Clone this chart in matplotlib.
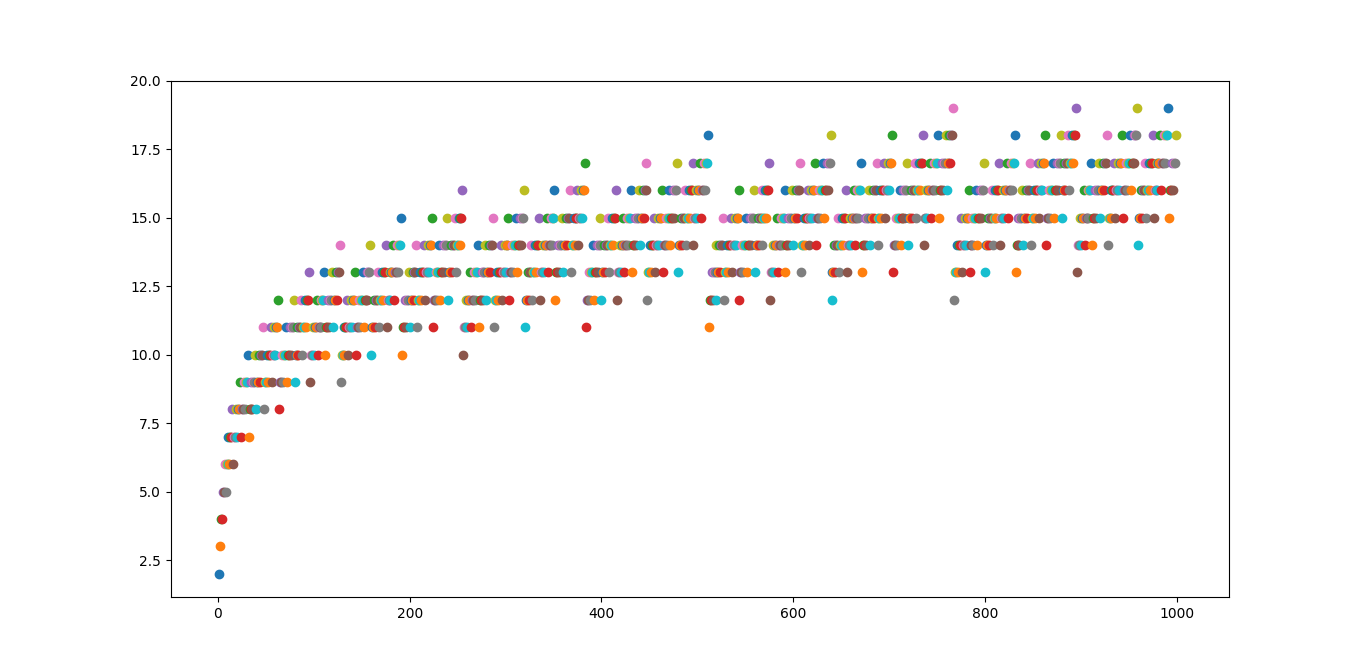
import matplotlib
matplotlib.use('Agg')
import matplotlib.pyplot as plt

# x runs 1..999, one dot per value
counts = [
    2,
    3, 4,
    4, 5, 5, 6,
    5, 6, 6, 7, 6, 7, 7, 8,
    6, 7, 7, 8, 7, 8, 8, 9, 7, 8, 8, 9, 8, 9, 9, 10,
    7, 8, 8, 9, 8, 9, 9, 10, 8, 9, 9, 10, 9, 10, 10, 11,
    8, 9, 9, 10, 9, 10, 10, 11, 9, 10, 10, 11, 10, 11, 11, 12,
    # 64
    8, 9, 9, 10, 9, 10, 10, 11, 9, 10, 10, 11, 10, 11, 11, 12,
    9, 10, 10, 11, 10, 11, 11, 12, 10, 11, 11, 12, 11, 12, 12, 13,
    9, 10, 10, 11, 10, 11, 11, 12, 10, 11, 11, 12, 11, 12, 12, 13,
    10, 11, 11, 12, 11, 12, 12, 13, 11, 12, 12, 13, 12, 13, 13, 14,
    # 128
    9, 10, 10, 11, 10, 11, 11, 12, 10, 11, 11, 12, 11, 12, 12, 13,
    10, 11, 11, 12, 11, 12, 12, 13, 11, 12, 12, 13, 12, 13, 13, 14,
    10, 11, 11, 12, 11, 12, 12, 13, 11, 12, 12, 13, 12, 13, 13, 14,
    11, 12, 12, 13, 12, 13, 13, 14, 12, 13, 13, 14, 13, 14, 14, 15,
    10, 11, 11, 12, 11, 12, 12, 13, 11, 12, 12, 13, 12, 13, 13, 14,
    11, 12, 12, 13, 12, 13, 13, 14, 12, 13, 13, 14, 13, 14, 14, 15,
    11, 12, 12, 13, 12, 13, 13, 14, 12, 13, 13, 14, 13, 14, 14, 15,
    12, 13, 13, 14, 13, 14, 14, 15, 13, 14, 14, 15, 14, 15, 15, 16,
    # 256
    10, 11, 11, 12, 11, 12, 12, 13, 11, 12, 12, 13, 12, 13, 13, 14,
    11, 12, 12, 13, 12, 13, 13, 14, 12, 13, 13, 14, 13, 14, 14, 15,
    11, 12, 12, 13, 12, 13, 13, 14, 12, 13, 13, 14, 13, 14, 14, 15,
    12, 13, 13, 14, 13, 14, 14, 15, 13, 14, 14, 15, 14, 15, 15, 16,
    11, 12, 12, 13, 12, 13, 13, 14, 12, 13, 13, 14, 13, 14, 14, 15,
    12, 13, 13, 14, 13, 14, 14, 15, 13, 14, 14, 15, 14, 15, 15, 16,
    12, 13, 13, 14, 13, 14, 14, 15, 13, 14, 14, 15, 14, 15, 15, 16,
    13, 14, 14, 15, 14, 15, 15, 16, 14, 15, 15, 16, 15, 16, 16, 17,
    11, 12, 12, 13, 12, 13, 13, 14, 12, 13, 13, 14, 13, 14, 14, 15,
    12, 13, 13, 14, 13, 14, 14, 15, 13, 14, 14, 15, 14, 15, 15, 16,
    12, 13, 13, 14, 13, 14, 14, 15, 13, 14, 14, 15, 14, 15, 15, 16,
    13, 14, 14, 15, 14, 15, 15, 16, 14, 15, 15, 16, 15, 16, 16, 17,
    12, 13, 13, 14, 13, 14, 14, 15, 13, 14, 14, 15, 14, 15, 15, 16,
    13, 14, 14, 15, 14, 15, 15, 16, 14, 15, 15, 16, 15, 16, 16, 17,
    13, 14, 14, 15, 14, 15, 15, 16, 14, 15, 15, 16, 15, 16, 16, 17,
    14, 15, 15, 16, 15, 16, 16, 17, 15, 16, 16, 17, 16, 17, 17, 18,
    # 512
    11, 12, 12, 13, 12, 13, 13, 14, 12, 13, 13, 14, 13, 14, 14, 15,
    12, 13, 13, 14, 13, 14, 14, 15, 13, 14, 14, 15, 14, 15, 15, 16,
    12, 13, 13, 14, 13, 14, 14, 15, 13, 14, 14, 15, 14, 15, 15, 16,
    13, 14, 14, 15, 14, 15, 15, 16, 14, 15, 15, 16, 15, 16, 16, 17,
    12, 13, 13, 14, 13, 14, 14, 15, 13, 14, 14, 15, 14, 15, 15, 16,
    13, 14, 14, 15, 14, 15, 15, 16, 14, 15, 15, 16, 15, 16, 16, 17,
    13, 14, 14, 15, 14, 15, 15, 16, 14, 15, 15, 16, 15, 16, 16, 17,
    14, 15, 15, 16, 15, 16, 16, 17, 15, 16, 16, 17, 16, 17, 17, 18,
    12, 13, 13, 14, 13, 14, 14, 15, 13, 14, 14, 15, 14, 15, 15, 16,
    13, 14, 14, 15, 14, 15, 15, 16, 14, 15, 15, 16, 15, 16, 16, 17,
    13, 14, 14, 15, 14, 15, 15, 16, 14, 15, 15, 16, 15, 16, 16, 17,
    14, 15, 15, 16, 15, 16, 16, 17, 15, 16, 16, 17, 16, 17, 17, 18,
    13, 14, 14, 15, 14, 15, 15, 16, 14, 15, 15, 16, 15, 16, 16, 17,
    14, 15, 15, 16, 15, 16, 16, 17, 15, 16, 16, 17, 16, 17, 17, 18,
    14, 15, 15, 16, 15, 16, 16, 17, 15, 16, 16, 17, 16, 17, 17, 18,
    15, 16, 16, 17, 16, 17, 17, 18, 16, 17, 17, 18, 17, 18, 18, 19,
    # 768
    12, 13, 13, 14, 13, 14, 14, 15, 13, 14, 14, 15, 14, 15, 15, 16,
    13, 14, 14, 15, 14, 15, 15, 16, 14, 15, 15, 16, 15, 16, 16, 17,
    13, 14, 14, 15, 14, 15, 15, 16, 14, 15, 15, 16, 15, 16, 16, 17,
    14, 15, 15, 16, 15, 16, 16, 17, 15, 16, 16, 17, 16, 17, 17, 18,
    13, 14, 14, 15, 14, 15, 15, 16, 14, 15, 15, 16, 15, 16, 16, 17,
    14, 15, 15, 16, 15, 16, 16, 17, 15, 16, 16, 17, 16, 17, 17, 18,
    14, 15, 15, 16, 15, 16, 16, 17, 15, 16, 16, 17, 16, 17, 17, 18,
    15, 16, 16, 17, 16, 17, 17, 18, 16, 17, 17, 18, 17, 18, 18, 19,
    13, 14, 14, 15, 14, 15, 15, 16, 14, 15, 15, 16, 15, 16, 16, 17,
    14, 15, 15, 16, 15, 16, 16, 17, 15, 16, 16, 17, 16, 17, 17, 18,
    14, 15, 15, 16, 15, 16, 16, 17, 15, 16, 16, 17, 16, 17, 17, 18,
    15, 16, 16, 17, 16, 17, 17, 18, 16, 17, 17, 18, 17, 18, 18, 19,
    14, 15, 15, 16, 15, 16, 16, 17, 15, 16, 16, 17, 16, 17, 17, 18,
    15, 16, 16, 17, 16, 17, 17, 18, 16, 17, 17, 18, 17, 18, 18, 19,
    15, 16, 16, 17, 16, 17, 17, 18,
]
numbers = list(range(1, len(counts) + 1))

fig, ax = plt.subplots(figsize=(13.66, 6.71), dpi=100)

# one scatter call per dot so the colours cycle
for n, c in zip(numbers, counts):
    ax.scatter(n, c)

ax.set_xlim(-49.2, 1055)
ax.set_ylim(top=20)

plt.savefig('out.png')
